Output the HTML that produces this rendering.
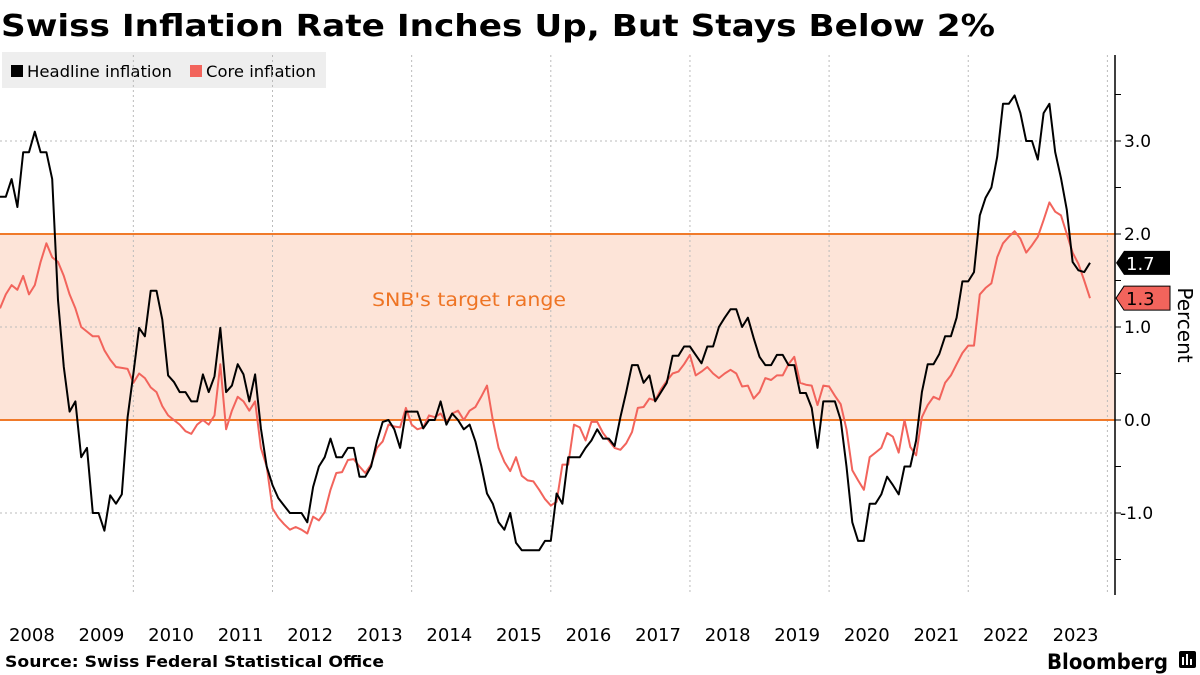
<!DOCTYPE html>
<html><head><meta charset="utf-8">
<style>
html,body{margin:0;padding:0;background:#fff;}
body{width:1200px;height:675px;overflow:hidden;position:relative;font-family:"DejaVu Sans","Liberation Sans",sans-serif;}
svg{position:absolute;left:0;top:0;font-family:"DejaVu Sans","Liberation Sans",sans-serif;}
</style></head>
<body>
<svg id="chart" width="1200" height="675">
  <text x="1" y="36" font-size="30" font-weight="bold" fill="#000" textLength="994" lengthAdjust="spacingAndGlyphs">Swiss Inflation Rate Inches Up, But Stays Below 2%</text>
  <g>
    <rect x="2" y="52" width="324" height="36" fill="#eeeeee"/>
    <g>
      <rect x="11" y="65" width="12" height="12" fill="#000"/>
      <text x="27" y="77" font-size="16" fill="#000" textLength="145" lengthAdjust="spacingAndGlyphs">Headline inflation</text>
    </g>
    <g>
      <rect x="190" y="65" width="12" height="12" fill="#f2645c"/>
      <text x="206" y="77" font-size="16" fill="#000" textLength="110" lengthAdjust="spacingAndGlyphs">Core inflation</text>
    </g>
  </g>
  <g id="plot"></g>
  <text x="5" y="667" font-size="16" font-weight="bold" fill="#000" textLength="379" lengthAdjust="spacingAndGlyphs">Source: Swiss Federal Statistical Office</text>
  <text x="1047" y="669" font-size="21" font-weight="bold" fill="#000" textLength="121" lengthAdjust="spacingAndGlyphs">Bloomberg</text>
  <g>
    <rect x="1179" y="651" width="17" height="17" rx="2" fill="#000"/>
    <rect x="1182" y="657" width="2" height="8" fill="#fff"/><rect x="1186" y="654" width="2" height="11" fill="#fff"/><rect x="1190" y="659" width="2" height="6" fill="#fff"/>
  </g>
</svg>
<script>
const years = ["2008","2009","2010","2011","2012","2013","2014","2015","2016","2017","2018","2019","2020","2021","2022","2023"];
const headline = [
2.4,2.4,2.59,2.29,2.88,2.88,3.1,2.88,2.88,2.59,1.29,0.57,
0.09,0.2,-0.4,-0.3,-1.0,-1.0,-1.19,-0.81,-0.9,-0.8,0.03,0.5,
0.99,0.9,1.39,1.39,1.08,0.48,0.41,0.3,0.3,0.2,0.2,0.49,
0.3,0.47,0.99,0.3,0.37,0.6,0.49,0.2,0.49,-0.09,-0.5,-0.7,
-0.84,-0.92,-1.0,-1.0,-1.0,-1.1,-0.72,-0.5,-0.4,-0.2,-0.4,-0.4,
-0.3,-0.3,-0.61,-0.61,-0.5,-0.23,-0.02,0.0,-0.1,-0.3,0.09,0.09,
0.09,-0.09,0.0,0.0,0.2,-0.05,0.07,0.0,-0.1,-0.05,-0.23,-0.49,
-0.79,-0.9,-1.1,-1.18,-1.0,-1.32,-1.4,-1.4,-1.4,-1.4,-1.3,-1.3,
-0.79,-0.9,-0.4,-0.4,-0.4,-0.3,-0.22,-0.1,-0.2,-0.2,-0.28,0.03,
0.3,0.59,0.59,0.4,0.48,0.2,0.3,0.4,0.69,0.69,0.79,0.79,
0.7,0.61,0.79,0.79,1.0,1.1,1.19,1.19,1.0,1.1,0.88,0.68,
0.59,0.59,0.7,0.7,0.59,0.59,0.29,0.29,0.13,-0.3,0.2,0.2,
0.2,0.0,-0.5,-1.1,-1.3,-1.3,-0.9,-0.9,-0.8,-0.61,-0.7,-0.8,
-0.5,-0.5,-0.22,0.3,0.6,0.6,0.71,0.9,0.9,1.1,1.49,1.49,
1.59,2.2,2.39,2.5,2.83,3.4,3.4,3.49,3.3,3.0,3.0,2.8,
3.3,3.4,2.88,2.6,2.26,1.7,1.61,1.59,1.69];
const core = [
1.2,1.35,1.45,1.4,1.55,1.35,1.45,1.7,1.9,1.75,1.7,1.55,
1.35,1.2,1.0,0.95,0.9,0.9,0.75,0.65,0.57,0.56,0.55,0.4,
0.5,0.45,0.35,0.3,0.15,0.05,0.0,-0.05,-0.12,-0.15,-0.05,0.0,
-0.05,0.05,0.6,-0.1,0.1,0.25,0.2,0.1,0.2,-0.3,-0.5,-0.95,
-1.05,-1.12,-1.18,-1.15,-1.18,-1.22,-1.04,-1.08,-0.99,-0.75,-0.57,-0.56,
-0.43,-0.42,-0.5,-0.57,-0.48,-0.3,-0.23,-0.05,-0.07,-0.08,0.13,-0.05,
-0.1,-0.08,0.05,0.03,0.07,-0.03,0.07,0.1,0.0,0.1,0.14,0.25,
0.37,0.0,-0.3,-0.45,-0.55,-0.4,-0.6,-0.65,-0.66,-0.75,-0.85,-0.92,
-0.88,-0.48,-0.48,-0.05,-0.08,-0.22,-0.02,-0.02,-0.14,-0.22,-0.3,-0.32,
-0.25,-0.13,0.13,0.14,0.23,0.21,0.33,0.42,0.5,0.52,0.6,0.7,
0.48,0.52,0.57,0.5,0.45,0.5,0.54,0.5,0.36,0.37,0.23,0.3,
0.45,0.43,0.48,0.48,0.6,0.68,0.4,0.38,0.37,0.16,0.37,0.36,
0.26,0.17,-0.1,-0.54,-0.65,-0.75,-0.4,-0.35,-0.3,-0.14,-0.18,-0.35,
0.0,-0.29,-0.38,0.03,0.16,0.25,0.22,0.4,0.48,0.6,0.72,0.8,
0.8,1.35,1.42,1.47,1.75,1.9,1.97,2.03,1.95,1.8,1.88,1.97,
2.15,2.34,2.24,2.2,2.0,1.8,1.68,1.5,1.31];
const yTicks = [-1.0, 0.0, 1.0, 2.0, 3.0];
const yTickLabels = ["-1.0","0.0","1.0","2.0","3.0"];
const minorTicks = [-1.5,-1.0,-0.5,0.0,0.5,1.0,1.5,2.0,2.5,3.0,3.5];
const targetLow = 0.0, targetHigh = 2.0;

const NS = "http://www.w3.org/2000/svg";
const plot = document.getElementById("plot");
const X0 = 0, XSTEP = 1090/188;
function xScale(i){ return X0 + i*XSTEP; }
function yScale(v){ return 420 - v*93; }
function mk(tag, attrs, parent){
  const e = document.createElementNS(NS, tag);
  for (const k in attrs) e.setAttribute(k, attrs[k]);
  (parent||plot).appendChild(e);
  return e;
}
const band = mk("rect",{x:0,y:yScale(targetHigh),width:1115,height:yScale(targetLow)-yScale(targetHigh),fill:"#fde4d8"});


for (let k=0;k<8;k++){
  const gx = xScale(23+24*k);
  const g = mk("line",{x1:gx,x2:gx,y1:55,y2:595,stroke:"#bbb","stroke-width":1,"stroke-dasharray":"2,3"});
  
  
}
yTicks.forEach(v=>{
  if (v===targetLow || v===targetHigh) return;
  const g = mk("line",{x1:0,x2:1115,y1:yScale(v),y2:yScale(v),stroke:"#bbb","stroke-width":1,"stroke-dasharray":"2,3"});
  
  
});
[targetLow,targetHigh].forEach(v=>{
  const l = mk("line",{x1:0,x2:1115,y1:yScale(v),y2:yScale(v),stroke:"#f07a2a","stroke-width":2});
  
  
});
const bt = mk("text",{x:372,y:306,"font-size":19,fill:"#ee7424",textLength:194,lengthAdjust:"spacingAndGlyphs"});
bt.textContent = "SNB's target range";


function line(arr, color, name){
  const d = arr.map((v,i)=>(i?"L":"M")+xScale(i).toFixed(1)+","+yScale(v).toFixed(1)).join("");
  const p = mk("path",{d:d,fill:"none",stroke:color,"stroke-width":2,"stroke-linejoin":"round"});
  
  
}
line(core, "#f2645c", "core-inflation-line");
line(headline, "#000", "headline-inflation-line");
const ax = mk("line",{x1:1115,x2:1115,y1:55,y2:595,stroke:"#000","stroke-width":1.5});


minorTicks.forEach(v=>{
  const t = mk("line",{x1:1115,x2:1121,y1:yScale(v),y2:yScale(v),stroke:"#000","stroke-width":1});
  
  
});
yTicks.forEach((v,i)=>{
  const t = mk("text",{x:v<0?1120:1124,y:yScale(v)+6,"font-size":17,fill:"#000"});
  t.textContent = yTickLabels[i];
  
  
});
years.forEach((y,i)=>{
  const t = mk("text",{x:xScale(i*12+5.5),y:641,"font-size":18,fill:"#000","text-anchor":"middle"});
  t.textContent = y;
  
  
});
function tag(v, bg, fg, name){
  const yy = yScale(v);
  const g = mk("g",{});
  
  
  mk("path",{d:`M1116,${yy} L1124,${yy-12} L1170,${yy-12} L1170,${yy+12} L1124,${yy+12} Z`,fill:bg,stroke:"#000","stroke-width":bg==="#000"?0:1},g);
  const t = mk("text",{x:1126,y:yy+7,"font-size":18,fill:fg},g);
  t.textContent = v.toFixed(1);
}
tag(headline[headline.length-1], "#000", "#fff", "headline-last-value-tag");
tag(core[core.length-1], "#f2645c", "#000", "core-last-value-tag");
const pt = mk("text",{x:1178,y:325,"font-size":20,fill:"#000","text-anchor":"middle",transform:"rotate(90 1178 325)"});
pt.textContent = "Percent";


</script>
</body></html>
